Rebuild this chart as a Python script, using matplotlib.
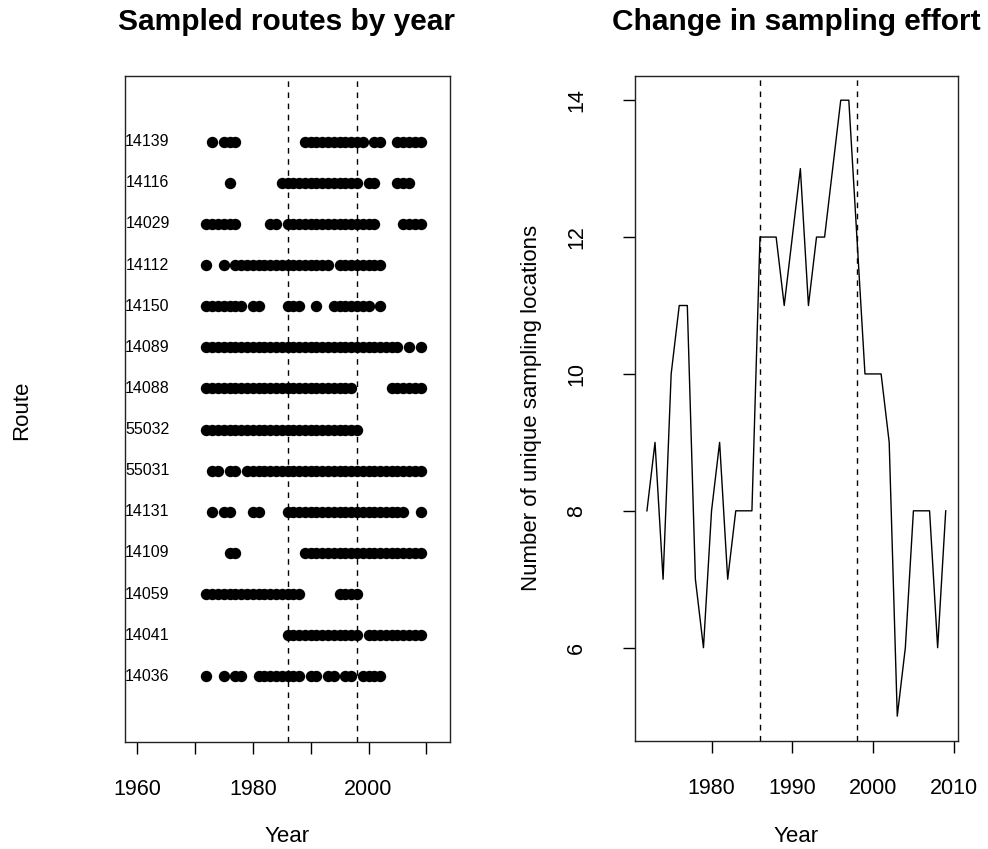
import matplotlib
matplotlib.use("Agg")
import matplotlib.pyplot as plt

plt.rcParams['font.family'] = ['Liberation Sans', 'DejaVu Sans']

# routes, top to bottom, with the years each one was sampled
route_ids = ["14139", "14116", "14029", "14112", "14150", "14089", "14088",
             "55032", "55031", "14131", "14109", "14059", "14041", "14036"]

yrs_14139 = [1973, 1975, 1976, 1977, 1989, 1990, 1991, 1992, 1993, 1994, 1995, 1996, 1997, 1998, 1999,
             2001, 2002, 2005, 2006, 2007, 2008, 2009]
yrs_14116 = [1976, 1985, 1986, 1987, 1988, 1989, 1990, 1991, 1992, 1993, 1994, 1995, 1996, 1997, 1998,
             2000, 2001, 2005, 2006, 2007]
yrs_14029 = [1972, 1973, 1974, 1975, 1976, 1977, 1983, 1984, 1986, 1987, 1988, 1989, 1990, 1991, 1992,
             1993, 1994, 1995, 1996, 1997, 1998, 1999, 2000, 2001, 2006, 2007, 2008, 2009]
yrs_14112 = [1972, 1975, 1977, 1978, 1979, 1980, 1981, 1982, 1983, 1984, 1985, 1986, 1987, 1988, 1989,
             1990, 1991, 1992, 1993, 1995, 1996, 1997, 1998, 1999, 2000, 2001, 2002]
yrs_14150 = [1972, 1973, 1974, 1975, 1976, 1977, 1978, 1980, 1981, 1986, 1987, 1988, 1991, 1994, 1995,
             1996, 1997, 1998, 1999, 2000, 2002]
yrs_14089 = [1972, 1973, 1974, 1975, 1976, 1977, 1978, 1979, 1980, 1981, 1982, 1983, 1984, 1985, 1986,
             1987, 1988, 1989, 1990, 1991, 1992, 1993, 1994, 1995, 1996, 1997, 1998, 1999, 2000, 2001,
             2002, 2003, 2004, 2005, 2007, 2009]
yrs_14088 = [1972, 1973, 1974, 1975, 1976, 1977, 1978, 1979, 1980, 1981, 1982, 1983, 1984, 1985, 1986,
             1987, 1988, 1989, 1990, 1991, 1992, 1993, 1994, 1995, 1996, 1997, 2004, 2005, 2006, 2007,
             2008, 2009]
yrs_55032 = [1972, 1973, 1974, 1975, 1976, 1977, 1978, 1979, 1980, 1981, 1982, 1983, 1984, 1985, 1986,
             1987, 1988, 1989, 1990, 1991, 1992, 1993, 1994, 1995, 1996, 1997, 1998]
yrs_55031 = [1973, 1974, 1976, 1977, 1979, 1980, 1981, 1982, 1983, 1984, 1985, 1986, 1987, 1988, 1989,
             1990, 1991, 1992, 1993, 1994, 1995, 1996, 1997, 1998, 1999, 2000, 2001, 2002, 2003, 2004,
             2005, 2006, 2007, 2008, 2009]
yrs_14131 = [1973, 1975, 1976, 1980, 1981, 1986, 1987, 1988, 1989, 1990, 1991, 1992, 1993, 1994, 1995,
             1996, 1997, 1998, 1999, 2000, 2001, 2002, 2003, 2004, 2005, 2006, 2009]
yrs_14109 = [1976, 1977, 1989, 1990, 1991, 1992, 1993, 1994, 1995, 1996, 1997, 1998, 1999, 2000, 2001,
             2002, 2003, 2004, 2005, 2006, 2007, 2008, 2009]
yrs_14059 = [1972, 1973, 1974, 1975, 1976, 1977, 1978, 1979, 1980, 1981, 1982, 1983, 1984, 1985, 1986,
             1987, 1988, 1995, 1996, 1997, 1998]
yrs_14041 = [1986, 1987, 1988, 1989, 1990, 1991, 1992, 1993, 1994, 1995, 1996, 1997, 1998, 2000, 2001,
             2002, 2003, 2004, 2005, 2006, 2007, 2008, 2009]
yrs_14036 = [1972, 1975, 1977, 1978, 1981, 1982, 1983, 1984, 1985, 1986, 1987, 1988, 1990, 1991, 1993,
             1994, 1996, 1997, 1999, 2000, 2001, 2002]

route_years = [yrs_14139, yrs_14116, yrs_14029, yrs_14112, yrs_14150, yrs_14089, yrs_14088,
               yrs_55032, yrs_55031, yrs_14131, yrs_14109, yrs_14059, yrs_14041, yrs_14036]

# number of unique sampling locations per year (right panel)
effort_years = [1972, 1973, 1974, 1975, 1976, 1977, 1978, 1979, 1980, 1981, 1982, 1983, 1984,
                1985, 1986, 1987, 1988, 1989, 1990, 1991, 1992, 1993, 1994, 1995, 1996, 1997,
                1998, 1999, 2000, 2001, 2002, 2003, 2004, 2005, 2006, 2007, 2008, 2009]
effort_counts = [8, 9, 7, 10, 11, 11, 7, 6, 8, 9, 7, 8, 8,
                 8, 12, 12, 12, 11, 12, 13, 11, 12, 12, 13, 14, 14,
                 12, 10, 10, 10, 9, 5, 6, 8, 8, 8, 6, 8]

break_years = [1986, 1998]

fig = plt.figure(figsize=(9.88, 8.49), dpi=100)

# --- left panel: sampled routes ---
ax1 = fig.add_axes([0.1265, 0.126, 0.329, 0.7845])
n = len(route_ids)
for i, (rid, yrs) in enumerate(zip(route_ids, route_years)):
    ypos = n - i
    ax1.plot(yrs, [ypos] * len(yrs), 'o', color='black', ms=8.2, mew=0)
    ax1.text(1961.8, ypos, rid, ha='center', va='center', fontsize=11.5)
for b in break_years:
    ax1.axvline(b, color='black', lw=1.0, linestyle=(0, (4, 4)))
ax1.set_xlim(1957.92, 2014.08)
ax1.set_ylim(-0.6, 15.6)
ax1.set_xticks([1960, 1970, 1980, 1990, 2000, 2010])
ax1.set_xticklabels(["1960", "", "1980", "", "2000", ""])
ax1.set_yticks([])
ax1.tick_params(axis='x', length=8.5, width=1.0, pad=18, labelsize=15.5)

# --- right panel: sampling effort ---
ax2 = fig.add_axes([0.6427, 0.1275, 0.3266, 0.7835])
ax2.plot(effort_years, effort_counts, color='black', lw=1.0)
for b in break_years:
    ax2.axvline(b, color='black', lw=1.0, linestyle=(0, (4, 4)))
ax2.set_xlim(1970.52, 2010.48)
ax2.set_ylim(4.64, 14.36)
ax2.set_xticks([1980, 1990, 2000, 2010])
ax2.set_yticks([6, 8, 10, 12, 14])
ax2.tick_params(axis='x', length=8.5, width=1.0, pad=18, labelsize=15.5)
ax2.tick_params(axis='y', length=8.5, width=1.0, pad=26, labelsize=15.5)
for lab in ax2.get_yticklabels():
    lab.set_rotation(90)
    lab.set_va('center')

for ax in (ax1, ax2):
    for s in ax.spines.values():
        s.set_linewidth(1.0)
        s.set_color('#222222')

# titles and axis labels
fig.text(287 / 988, 1 - 22 / 849, "Sampled routes by year", ha='center', va='center',
         fontsize=21.5, fontweight='bold')
fig.text(796 / 988, 1 - 22 / 849, "Change in sampling effort", ha='center', va='center',
         fontsize=21.5, fontweight='bold')
fig.text(287 / 988, 1 - 836 / 849, "Year", ha='center', va='center', fontsize=16)
fig.text(796 / 988, 1 - 836 / 849, "Year", ha='center', va='center', fontsize=16)
fig.text(22 / 988, 1 - 410 / 849, "Route", ha='center', va='center', fontsize=16, rotation=90)
fig.text(531 / 988, 1 - 408 / 849, "Number of unique sampling locations", ha='center',
         va='center', fontsize=16, rotation=90)

fig.savefig("out.png", dpi=100)
